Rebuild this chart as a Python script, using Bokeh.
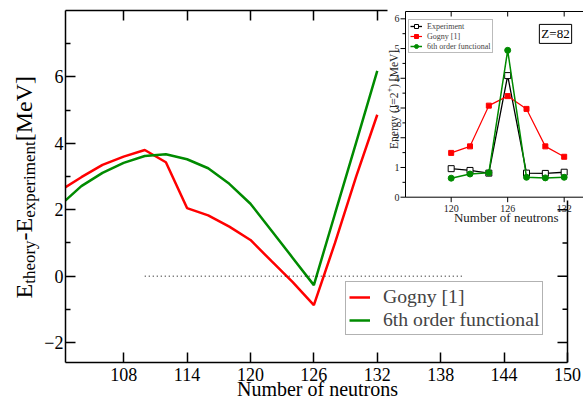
from bokeh.plotting import figure
from bokeh.layouts import row
from bokeh.models import Range1d, LinearAxis, FixedTicker, Legend, LegendItem, Label
from bokeh.embed import file_html
from bokeh.resources import INLINE

# ---------------- data ----------------
# main panel: E_theory - E_experiment vs neutron number
neutrons = [102, 104, 106, 108, 110, 112, 114, 116, 118, 120, 122, 124, 126, 128, 130, 132]
gogny_diff = [2.58, 2.98, 3.35, 3.60, 3.80, 3.43, 2.05, 1.83, 1.49, 1.09, 0.45, -0.18, -0.87, 1.00, 3.00, 4.86]
sixth_diff = [2.14, 2.71, 3.11, 3.41, 3.62, 3.67, 3.52, 3.25, 2.78, 2.18, 1.37, 0.55, -0.27, 1.88, 4.02, 6.18]
zero_x = [110, 140]
zero_y = [0, 0]
x_ticks = [108, 114, 120, 126, 132, 138, 144, 150]
top_ticks = [108, 114, 120, 126, 132]
y_ticks = [-2, 0, 2, 4, 6]
y_minor = [-1, 1, 3, 5, 7]
right_ticks = [-2, 0, 2]
right_minor = [-1, 1]

# inset: energy of 2+ state, Z=82
inset_n = [120, 122, 124, 126, 128, 130, 132]
exp_e = [0.96, 0.90, 0.81, 4.09, 0.81, 0.80, 0.84]
gogny_e = [1.49, 1.71, 3.08, 3.40, 2.97, 1.71, 1.36]
sixth_e = [0.64, 0.78, 0.82, 4.94, 0.67, 0.65, 0.67]
inset_x_ticks = [120, 126, 132]
inset_y_ticks = [0, 1, 2, 3, 4, 5, 6]
inset_y_minor = [0.5, 1.5, 2.5, 3.5, 4.5, 5.5]

FONT = "Liberation Serif"
RED = "#ff0000"
GREEN = "#008b00"

# ---------------- geometry (page pixels) ----------------
LABEL_W = 40                      # strip holding the rotated y label
FL, FR, FT, FB = 65.0, 583.0, 10.0, 362.0   # main frame (extends under the inset to the page edge)
AX_R = 567.0                      # where the main x axis ends (N = 150)
X0, XAX, Y0, Y1 = 102.5, 150.0, -2.6, 8.0
PX_PER_N = (AX_R - FL) / (XAX - X0)
X1 = XAX + (FR - AX_R) / PX_PER_N


def mx(px):
    return X0 + (px - FL) / PX_PER_N


def my(py):
    return Y1 - (py - FT) * (Y1 - Y0) / (FB - FT)


# inset mapping
I_LEFT_PX, I_LEFT_N, I_SX = 405.0, 115.15, 9.417
I_BOT_PX, I_SY = 196.7, 29.73
I_TOP_PX = 11.0


def ix(px):
    return I_LEFT_N + (px - I_LEFT_PX) / I_SX


def iy(py):
    return (I_BOT_PX - py) / I_SY


p = figure(frame_width=int(FR - FL), frame_height=int(FB - FT),
           x_range=Range1d(X0, X1), y_range=Range1d(Y0, Y1),
           output_backend="svg", toolbar_location=None,
           min_border_left=int(FL) - LABEL_W, min_border_right=0, min_border_top=int(FT),
           min_border_bottom=40, background_fill_color="white", border_fill_color="white")
p.outline_line_color = None
p.grid.visible = False

p.extra_x_ranges = {"ix": Range1d(ix(FL), ix(FR))}
p.extra_y_ranges = {"iy": Range1d(iy(FB), iy(FT))}

# ---- main axes ----
xa = p.xaxis[0]
xa.bounds = (X0, XAX)
xa.ticker = FixedTicker(ticks=x_ticks, minor_ticks=[])
xa.major_tick_in = 10
xa.major_tick_out = 0
xa.minor_tick_in = 0
xa.minor_tick_out = 0
xa.axis_line_width = 1.5
xa.major_tick_line_width = 1.5
xa.major_label_text_font = FONT
xa.major_label_text_font_size = "18px"
xa.major_label_text_color = "black"
xa.major_label_standoff = 5
# the frame runs on under the inset; the trailing en + thin space re-centres the
# label on the drawn axis (102.5 .. 150)
xa.axis_label = "Number of neutrons\u2002\u2009"
xa.axis_label_text_font = FONT
xa.axis_label_text_font_size = "20px"
xa.axis_label_text_font_style = "normal"
xa.axis_label_text_color = "black"
xa.axis_label_standoff = -6

ya = p.yaxis[0]
ya.ticker = FixedTicker(ticks=y_ticks, minor_ticks=y_minor)
ya.major_tick_in = 10
ya.major_tick_out = 0
ya.minor_tick_in = 5
ya.minor_tick_out = 0
ya.axis_line_width = 1.5
ya.major_tick_line_width = 1.5
ya.minor_tick_line_width = 1.5
ya.major_label_text_font = FONT
ya.major_label_text_font_size = "18px"
ya.major_label_text_color = "black"
ya.major_label_standoff = 2

top_axis = LinearAxis(bounds=(X0, 133), ticker=FixedTicker(ticks=top_ticks, minor_ticks=[]),
                      major_tick_in=10, major_tick_out=0, minor_tick_in=0, minor_tick_out=0,
                      major_label_overrides={t: "" for t in top_ticks},
                      major_label_text_font_size="0px", major_label_standoff=0,
                      axis_line_width=1.5, major_tick_line_width=1.5)
p.add_layout(top_axis, "above")

# ---- right-hand axis of the main panel (at N = 150, partly hidden by the inset) ----
R_TOP = my(200)
tick_dx = 10 / PX_PER_N
p.segment(x0=[XAX], y0=[Y0], x1=[XAX], y1=[R_TOP], line_color="black", line_width=1.5)
p.segment(x0=[XAX - tick_dx] * len(right_ticks), y0=right_ticks, x1=[XAX] * len(right_ticks),
          y1=right_ticks, line_color="black", line_width=1.5)
p.segment(x0=[XAX - tick_dx / 2] * len(right_minor), y0=right_minor, x1=[XAX] * len(right_minor),
          y1=right_minor, line_color="black", line_width=1.5)

# ---- main curves ----
r_red = p.line(neutrons, gogny_diff, line_color=RED, line_width=2.5)
r_green = p.line(neutrons, sixth_diff, line_color=GREEN, line_width=2.5)
p.line(zero_x, zero_y, line_color="black", line_width=1, line_dash="1 3")

main_legend = Legend(items=[LegendItem(label="Gogny [1]", renderers=[r_red]),
                            LegendItem(label="6th order functional", renderers=[r_green])],
                     location=(345 - FL, FB - 335), label_text_font=FONT, label_text_font_size="19.7px",
                     glyph_width=21, glyph_height=20, label_height=20, label_standoff=13,
                     padding=3, spacing=0, margin=0, border_line_color="#666666",
                     border_line_width=1, background_fill_color="white", background_fill_alpha=1)
p.add_layout(main_legend)

# ---------------- inset ----------------
IR = dict(x_range_name="ix", y_range_name="iy")
ixl = ix(I_LEFT_PX)
ixr = ix(FR)
iyt = iy(I_TOP_PX)

p.segment(x0=[ixl, ixl, ixl], y0=[0, 0, iyt], x1=[ixl, ixr, ixr], y1=[iyt, 0, iyt],
          line_color="black", line_width=1, **IR)
p.segment(x0=[ix(400)] * len(inset_y_ticks), y0=inset_y_ticks, x1=[ixl] * len(inset_y_ticks),
          y1=inset_y_ticks, line_color="black", line_width=1, **IR)
p.segment(x0=[ix(402)] * len(inset_y_minor), y0=inset_y_minor, x1=[ixl] * len(inset_y_minor),
          y1=inset_y_minor, line_color="black", line_width=1, **IR)
p.segment(x0=inset_x_ticks, y0=[iy(201.7)] * 3, x1=inset_x_ticks, y1=[0] * 3,
          line_color="black", line_width=1, **IR)
p.segment(x0=inset_x_ticks, y0=[iyt] * 3, x1=inset_x_ticks, y1=[iy(16)] * 3,
          line_color="black", line_width=1, **IR)

for t in inset_y_ticks:
    p.add_layout(Label(x=ix(399), y=t, text=str(t), text_font=FONT, text_font_size="10px",
                       text_align="right", text_baseline="middle", text_color="#222222", **IR))
for t in inset_x_ticks:
    p.add_layout(Label(x=t, y=iy(207.5), text=str(t), text_font=FONT, text_font_size="10px",
                       text_align="center", text_baseline="alphabetic", text_color="#222222", **IR))

p.add_layout(Label(x=ix(505.8), y=iy(216.5), text="Number of neutrons", text_font=FONT,
                   text_font_size="13px", text_align="center", text_baseline="alphabetic",
                   text_color="#222222", **IR))

ipieces = [("Energy (J=2", 11.5, 4.924, 393.0), ("+", 8.0, 0.564, 388.0), (") [MeV]", 11.5, 3.304, 393.0)]
iyp = 148.5
for txt, fs, em, bx in ipieces:
    p.add_layout(Label(x=ix(bx), y=iy(iyp), text=txt, angle=1.5707963, text_font=FONT,
                       text_font_size=f"{fs}px", text_align="left", text_baseline="alphabetic",
                       text_color="#222222", **IR))
    iyp -= em * fs

e_line = p.line(inset_n, exp_e, line_color="black", line_width=1.3, **IR)
e_pts = p.scatter(inset_n, exp_e, marker="square", size=6, line_color="black",
                  fill_color="white", line_width=1, **IR)
g_line = p.line(inset_n, gogny_e, line_color=RED, line_width=1.2, **IR)
g_pts = p.scatter(inset_n, gogny_e, marker="square", size=5, line_color=RED, fill_color=RED, **IR)
s_line = p.line(inset_n, sixth_e, line_color=GREEN, line_width=1.5, **IR)
s_pts = p.scatter(inset_n, sixth_e, marker="circle", size=6, line_color=GREEN, fill_color=GREEN, **IR)

inset_legend = Legend(items=[LegendItem(label="Experiment", renderers=[e_line, e_pts]),
                             LegendItem(label="Gogny [1]", renderers=[g_line, g_pts]),
                             LegendItem(label="6th order functional", renderers=[s_line, s_pts])],
                      location=(408 - FL, FB - 53), label_text_font=FONT, label_text_font_size="8px",
                      glyph_width=12, glyph_height=10, label_height=10, label_standoff=5,
                      padding=1, spacing=0, margin=0, border_line_color="#777777",
                      border_line_width=1, background_fill_color="white", background_fill_alpha=1)
p.add_layout(inset_legend)

p.add_layout(Label(x=ix(555), y=iy(33.4), text="Z=82", text_font=FONT, text_font_size="13px",
                   text_align="center", text_baseline="middle", text_color="black",
                   border_line_color="black", border_line_width=1,
                   background_fill_color="white", padding=2, **IR))

# ---------------- y-axis label strip ----------------
# its frame is aligned with the main frame (page y 10 .. 362), so data y == page y
lab = figure(width=LABEL_W, height=402, x_range=Range1d(0, LABEL_W), y_range=Range1d(FB, FT),
             output_backend="svg", toolbar_location=None,
             min_border_left=0, min_border_right=0, min_border_top=int(FT), min_border_bottom=40,
             x_axis_location=None, y_axis_location=None, title=None,
             background_fill_color="white", border_fill_color="white")
lab.grid.visible = False
lab.outline_line_color = None

B, S = 24, 17
pieces = [("E", B, 0.611), ("theory", S, 2.555), ("-E", B, 0.944),
          ("experiment", S, 4.499), (" [MeV]", B, 2.971)]
ypos = 298.0
for txt, fs, em in pieces:
    bx = 23.0 if fs == B else 29.0
    lab.add_layout(Label(x=bx, y=ypos, text=txt, angle=1.5707963, text_font=FONT,
                         text_font_size=f"{fs}px", text_align="left", text_baseline="alphabetic",
                         text_color="black"))
    ypos -= em * fs

layout = row(lab, p, spacing=0)
open("out.html", "w").write(file_html(layout, INLINE))
